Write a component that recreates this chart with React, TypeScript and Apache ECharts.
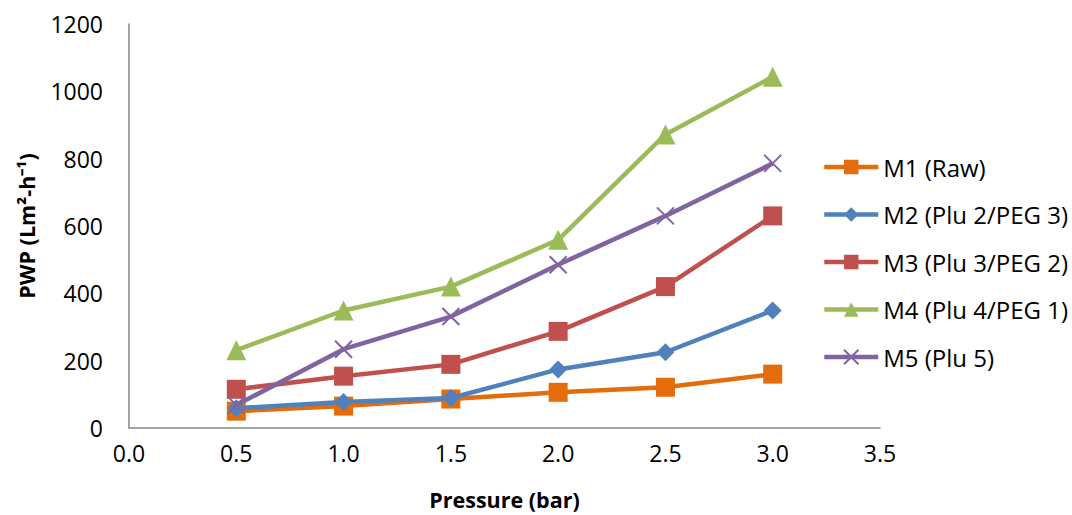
import React, { useEffect, useRef } from "react";
import * as echarts from "echarts";

const pressure = [0.5, 1.0, 1.5, 2.0, 2.5, 3.0];
const m1Raw = [50, 65, 86, 106, 121, 160];
const m2Plu2Peg3 = [59, 77, 89, 174, 225, 349];
const m3Plu3Peg2 = [115, 154, 189, 287, 420, 630];
const m4Plu4Peg1 = [231, 349, 420, 559, 872, 1043];
const m5Plu5 = [68, 234, 331, 485, 630, 786];

const seriesNames = [
  "M1 (Raw)",
  "M2 (Plu 2/PEG 3)",
  "M3 (Plu 3/PEG 2)",
  "M4 (Plu 4/PEG 1)",
  "M5 (Plu 5)",
];
const seriesValues = [m1Raw, m2Plu2Peg3, m3Plu3Peg2, m4Plu4Peg1, m5Plu5];
const colors = ["#E46C0A", "#4F81BD", "#C0504D", "#9BBB59", "#8064A2"];
const symbols = [
  "rect",
  "diamond",
  "rect",
  "triangle",
  "path://M0,0L10,10M10,0L0,10",
];
const symbolSizes = [19, 18, 19, 20, 17];

const FONT = "'Open Sans', 'Liberation Sans', sans-serif";

export default function App() {
  const ref = useRef<HTMLDivElement>(null);
  useEffect(() => {
    if (!ref.current) return;
    document.body.style.margin = "0";
    const chart = echarts.init(ref.current, null, { renderer: "svg" });
    const series = seriesValues.map((vals, i) => {
      const isCross = i === 4;
      return {
        name: seriesNames[i],
        type: "line",
        data: pressure.map((p, j) => [p, vals[j]]),
        symbol: symbols[i],
        symbolSize: symbolSizes[i],
        showAllSymbol: true,
        lineStyle: { color: colors[i], width: 4.5 },
        itemStyle: isCross
          ? { color: "rgba(0,0,0,0)", borderColor: colors[i], borderWidth: 2 }
          : { color: colors[i], borderWidth: 0 },
        z: 2 + i,
      };
    });
    chart.setOption({
      animation: false,
      backgroundColor: "#ffffff",
      textStyle: { fontFamily: FONT },
      grid: { left: 129, right: 192, top: 24, bottom: 85, containLabel: false },
      legend: {
        orient: "vertical",
        left: 822,
        top: 155,
        padding: 0,
        itemWidth: 54,
        itemHeight: 18,
        itemGap: 23.5,
        lineStyle: { width: 4.5 },
        textStyle: { fontSize: 24, color: "#000", fontFamily: FONT },
        data: seriesNames,
      },
      xAxis: {
        type: "value",
        min: 0,
        max: 3.5,
        interval: 0.5,
        name: "Pressure (bar)",
        nameLocation: "middle",
        nameGap: 60,
        nameTextStyle: { fontSize: 21.5, fontWeight: "bold", color: "#000", fontFamily: FONT },
        axisLine: { show: true, lineStyle: { color: "#868686", width: 1.5 } },
        axisTick: { show: false },
        splitLine: { show: false },
        axisLabel: {
          fontSize: 23,
          color: "#000",
          margin: 13,
          formatter: (v: number) => v.toFixed(1),
        },
      },
      yAxis: {
        type: "value",
        min: 0,
        max: 1200,
        interval: 200,
        name: "PWP (Lm²-h⁻¹)",
        nameLocation: "middle",
        nameGap: 92,
        nameTextStyle: { fontSize: 21.5, fontWeight: "bold", color: "#000", fontFamily: FONT },
        axisLine: { show: true, lineStyle: { color: "#868686", width: 1.5 } },
        axisTick: { show: false },
        splitLine: { show: false },
        axisLabel: {
          fontSize: 23,
          color: "#000",
          margin: 26,
          formatter: (v: number) => String(v),
        },
      },
      series,
    });
    return () => chart.dispose();
  }, []);
  return <div ref={ref} style={{ width: 1072, height: 515 }} />;
}
